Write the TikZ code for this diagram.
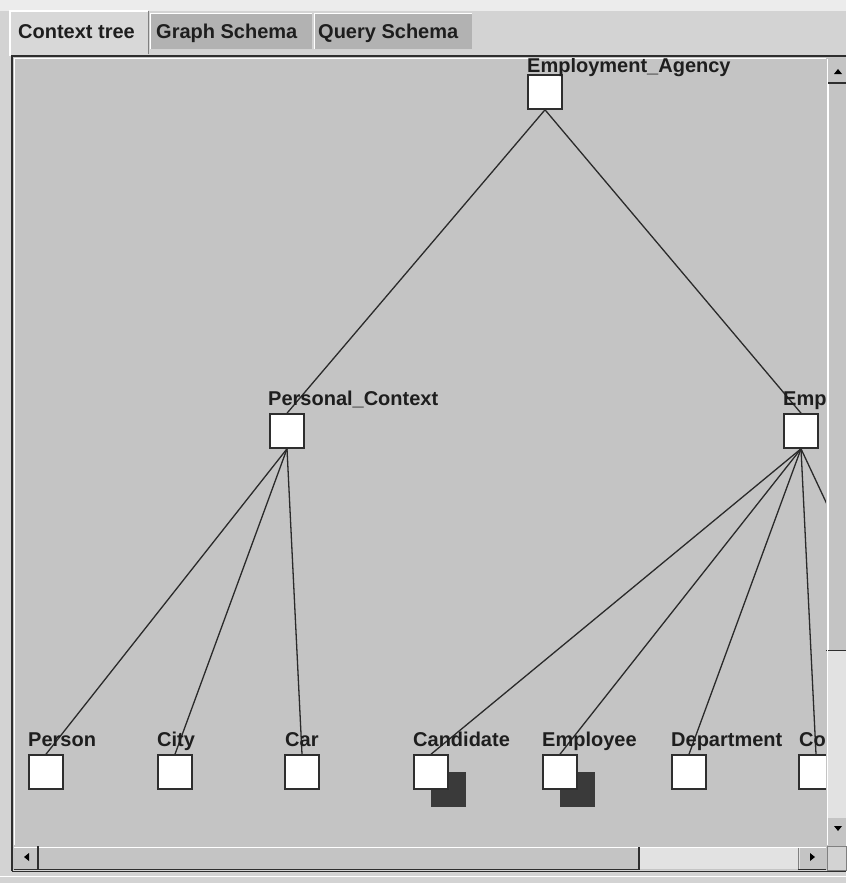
\documentclass[tikz,border=0pt]{standalone}
\usepackage{fontspec}
\setmainfont{Liberation Sans}
\definecolor{winbg}{HTML}{D3D3D3}
\definecolor{topbg}{HTML}{ECECEC}
\definecolor{panelbg}{HTML}{C4C4C4}
\definecolor{tabon}{HTML}{D8D8D8}
\definecolor{taboff}{HTML}{B2B2B2}
\definecolor{track}{HTML}{E2E2E2}
\definecolor{framec}{HTML}{2E2E2E}
\definecolor{edgec}{HTML}{2A2A2A}
\definecolor{shadowc}{HTML}{3A3A3A}
\definecolor{textc}{HTML}{1E1E1E}
\pgfdeclarelayer{bg}
\pgfdeclarelayer{edgelayer}
\pgfsetlayers{bg,edgelayer,main}
\tikzset{
  treebox/.style={rectangle, draw=framec, line width=1.6pt, fill=white, minimum size=34pt, inner sep=0pt},
  shadowbox/.style={rectangle, fill=shadowc, minimum size=35pt, inner sep=0pt},
  lbl/.style={anchor=base west, inner sep=0pt, text=textc, font=\fontsize{20}{24}\selectfont\bfseries},
  edge/.style={draw=edgec, line width=1.3pt},
  tabtext/.style={anchor=base west, inner sep=0pt, text=textc, font=\fontsize{20}{24}\selectfont\bfseries},
  darkline/.style={draw=framec, line width=1.5pt},
  hiline/.style={draw=white, line width=1.5pt}
}
\begin{document}
\begin{tikzpicture}[x=1pt,y=-1pt]
\useasboundingbox (0,0) rectangle (846,883);
\begin{pgfonlayer}{bg}
% window background
\fill[winbg] (0,0) rectangle (846,883);
\fill[topbg] (0,0) rectangle (846,11);
% panel
\fill[panelbg] (13,57) rectangle (846,870);
\end{pgfonlayer}
% tabs
\fill[taboff] (150,14) rectangle (312,49);
\fill[taboff] (314,14) rectangle (472,49);
\draw[hiline, line width=1pt] (150,49) -- (150,14) -- (312,14);
\draw[hiline, line width=1pt] (314,49) -- (314,14) -- (472,14);
\fill[tabon] (10,11) rectangle (148,56);
\draw[hiline] (10,56) -- (10,11) -- (148,11);
\draw[draw=gray, line width=1pt] (148,11) -- (148,54);
\node[tabtext] (t1) at (18,38) {Context tree};
\node[tabtext] (t2) at (156,38) {Graph Schema};
\node[tabtext] (t3) at (318,38) {Query Schema};
\draw[darkline] (12,871) -- (12,56) -- (846,56);
\draw[hiline, line width=1pt] (846,58.5) -- (14,58.5) -- (14,845);
% tree (clipped to viewport)
\begin{scope}
\clip (14,59) rectangle (826,845);
\node[shadowbox] (candS) at (448.5,789) {};
\node[shadowbox] (emplS) at (577.5,789) {};
\node[treebox] (EA) at (545,92) {};
\node[treebox] (PC) at (287,431) {};
\node[treebox] (EM) at (801,431) {};
\node[treebox] (person) at (46,772) {};
\node[treebox] (city) at (175,772) {};
\node[treebox] (car) at (302,772) {};
\node[treebox] (cand) at (431,772) {};
\node[treebox] (empl) at (560,772) {};
\node[treebox] (dept) at (689,772) {};
\node[treebox] (co) at (816,772) {};
\coordinate (hidden) at (945,756);
\node[lbl] (lEA) at (527,73) {Employment\_Agency};
\node[lbl] (lPC) at (268,405) {Personal\_Context};
\node[lbl] (lEM) at (783,405) {Emp};
\node[lbl] (lperson) at (28,746) {Person};
\node[lbl] (lcity) at (157,746) {City};
\node[lbl] (lcar) at (285,746) {Car};
\node[lbl] (lcand) at (413,746) {Candidate};
\node[lbl] (lempl) at (542,746) {Employee};
\node[lbl] (ldept) at (671,746) {Department};
\node[lbl] (lco) at (799,746) {Co};
\end{scope}
\begin{pgfonlayer}{edgelayer}
\begin{scope}
\clip (14,59) rectangle (826,845);
\draw[edge] (EA.south) -- (PC.north);
\draw[edge] (EA.south) -- (EM.north);
\draw[edge] (PC.south) -- (person.north);
\draw[edge] (PC.south) -- (city.north);
\draw[edge] (PC.south) -- (car.north);
\draw[edge] (EM.south) -- (cand.north);
\draw[edge] (EM.south) -- (empl.north);
\draw[edge] (EM.south) -- (dept.north);
\draw[edge] (EM.south) -- (co.north);
\draw[edge] (EM.south) -- (hidden);
\end{scope}
\end{pgfonlayer}
% vertical scrollbar
\fill[panelbg] (826,58) rectangle (846,845);
\fill[track] (827,651) rectangle (846,818);
\draw[hiline, line width=1.2pt] (828,84) -- (828,650);
\draw[darkline, line width=1.3pt] (826,650.5) -- (846,650.5);
\draw[darkline, line width=1.3pt] (828,83) -- (846,83);
\fill[black] (834,74) -- (842,74) -- (838,69) -- cycle;
\fill[black] (834,826) -- (842,826) -- (838,831) -- cycle;
\draw[hiline, line width=1pt] (827,59) -- (827,845);
% horizontal scrollbar
\fill[panelbg] (14,846) rectangle (826,870);
\fill[track] (640,847) rectangle (800,869);
\draw[hiline, line width=1.2pt] (14,847.5) -- (826,847.5);
\draw[darkline, line width=1.3pt] (38,846) -- (38,870);
\draw[darkline, line width=1.3pt] (639,847) -- (639,870);
\draw[darkline, line width=1.3pt] (14,869.5) -- (639,869.5);
\draw[darkline, line width=1.3pt] (798,869.5) -- (826,869.5);
\draw[draw=gray, line width=1pt] (798,848) -- (798,869);
\fill[black] (29,853) -- (29,861) -- (24,857) -- cycle;
\fill[black] (810,853) -- (810,861) -- (815,857) -- cycle;
% corner
\fill[winbg] (827,846) rectangle (846,870);
\draw[draw=gray, line width=1pt] (827,846) rectangle (846,870);
\draw[darkline, line width=1pt] (12,871.5) -- (846,871.5);
\draw[draw=white, line width=1pt] (0,876) -- (846,876);
\end{tikzpicture}
\end{document}
